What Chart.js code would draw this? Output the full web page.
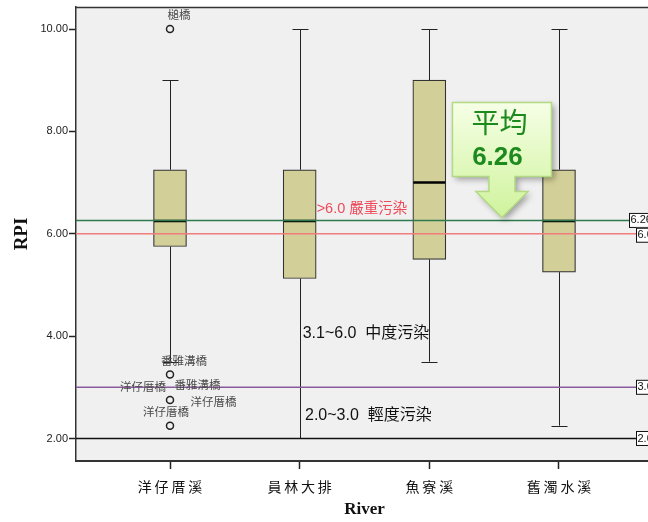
<!DOCTYPE html>
<html>
<head>
<meta charset="utf-8">
<script src="https://cdn.jsdelivr.net/npm/chart.js@4/dist/chart.umd.min.js"></script>
<style>
  html, body { margin: 0; padding: 0; background: #fff; overflow: hidden; }
  #wrap { width: 660px; height: 522px; }
</style>
</head>
<body>
<div id="wrap"><canvas id="rpiChart" width="660" height="522"></canvas></div>
<script>
// RPI 箱型圖：四條河川，含平均線與污染等級線
const rivers = ['洋仔厝溪', '員林大排', '魚寮溪', '舊濁水溪'];
const whiskerLow  = [3.5, 2.0, 3.5, 2.25];
const q1          = [5.75, 5.125, 5.5, 5.25];
const median      = [6.25, 6.25, 7.0, 6.25];
const q3          = [7.25, 7.25, 9.0, 7.25];
const whiskerHigh = [9.0, 10.0, 10.0, 10.0];

// 離群值（都屬於洋仔厝溪）
const outlierRiver = [0, 0, 0, 0];
const outlierValue = [10.0, 3.25, 2.75, 2.25];
const outlierNames = [['槌橋'], ['番雅溝橋'], ['洋仔厝橋', '番雅溝橋', '洋仔厝橋'], ['洋仔厝橋']];

// 參考線
const refValues = [6.26, 6.0, 3.0, 2.0];
const refLabels = ['6.26', '6.0', '3.0', '2.0'];
const refColors = ['#2e7a4c', '#f07c7c', '#8a5a9c', '#111111'];

const yTicks = [2, 4, 6, 8, 10];
const meanValue = 6.26;

const xMin = -0.725, xMax = 3.725;

// label offsets for outlier names (pixels from the point)
const nameOffsets = [[[9, -14]], [[14, -13.5]], [[-27, -13], [27.5, -15], [43.5, 1.5]], [[-4, -14.5]]];

function spaced(s) { return [...s].join('\u2009'); }

const boxDecor = {
  id: 'boxDecor',
  beforeDraw(chart) {
    const { ctx, chartArea: a } = chart;
    ctx.save();
    ctx.fillStyle = '#f0f0f0';
    ctx.fillRect(a.left, a.top, a.right - a.left, a.bottom - a.top);
    ctx.restore();
  },
  beforeDatasetsDraw(chart) {
    const { ctx } = chart;
    const x = chart.scales.x, y = chart.scales.y;
    ctx.save();
    ctx.strokeStyle = '#222';
    ctx.lineWidth = 1;
    rivers.forEach((r, i) => {
      const px = Math.round(x.getPixelForValue(i)) + 0.5;
      [[whiskerLow[i], q1[i]], [q3[i], whiskerHigh[i]]].forEach(([lo, hi]) => {
        ctx.beginPath();
        ctx.moveTo(px, y.getPixelForValue(lo));
        ctx.lineTo(px, y.getPixelForValue(hi));
        ctx.stroke();
      });
      [whiskerLow[i], whiskerHigh[i]].forEach(v => {
        const py = Math.round(y.getPixelForValue(v)) + 0.5;
        ctx.beginPath();
        ctx.moveTo(px - 8, py);
        ctx.lineTo(px + 8, py);
        ctx.stroke();
      });
    });
    ctx.restore();
  },
  afterDatasetDraw(chart, args) {
    if (args.index !== 0) return;
    const { ctx } = chart;
    const x = chart.scales.x, y = chart.scales.y;
    ctx.save();
    ctx.strokeStyle = '#000';
    ctx.lineWidth = 2.5;
    rivers.forEach((r, i) => {
      const px = x.getPixelForValue(i);
      const py = y.getPixelForValue(median[i]);
      ctx.beginPath();
      ctx.moveTo(px - 16, py);
      ctx.lineTo(px + 16, py);
      ctx.stroke();
    });
    ctx.restore();
  },
  afterDraw(chart) {
    const { ctx, chartArea: a } = chart;
    const x = chart.scales.x, y = chart.scales.y;
    ctx.save();
    // top / right frame
    ctx.strokeStyle = '#333';
    ctx.lineWidth = 1.5;
    ctx.beginPath();
    ctx.moveTo(a.left, a.top + 0.5);
    ctx.lineTo(a.right, a.top + 0.5);
    ctx.lineTo(a.right, a.bottom);
    ctx.stroke();

    // outlier names
    ctx.font = '11.5px "Noto Sans CJK TC"';
    ctx.fillStyle = '#4a4a4a';
    ctx.textAlign = 'center';
    ctx.textBaseline = 'middle';
    outlierValue.forEach((v, k) => {
      const px = x.getPixelForValue(outlierRiver[k]);
      const py = y.getPixelForValue(v);
      outlierNames[k].forEach((n, j) => {
        const [dx, dy] = nameOffsets[k][j];
        ctx.fillText(n, px + dx, py + dy);
      });
    });

    // pollution level notes
    ctx.textAlign = 'left';
    ctx.fillStyle = '#ee4b5a';
    ctx.font = '14.5px "Liberation Sans", "Noto Sans CJK TC"';
    ctx.fillText('>6.0 嚴重污染', x.getPixelForValue(1.131), y.getPixelForValue(6.48));
    ctx.fillStyle = '#111';
    ctx.font = '16px "Liberation Sans", "Noto Sans CJK TC"';
    ctx.fillText('3.1~6.0  中度污染', x.getPixelForValue(1.023), y.getPixelForValue(4.05));
    ctx.fillText('2.0~3.0  輕度污染', x.getPixelForValue(1.041), y.getPixelForValue(2.45));

    // value boxes at right end of reference lines
    ctx.font = '11px "Liberation Sans"';
    refValues.forEach((v, i) => {
      const py = y.getPixelForValue(v);
      const bx = i === 0 ? a.right - 24 : a.right - 17;
      const by = i === 0 ? py - 7.5 : (i === 1 ? py - 6 : py - 7.5);
      ctx.fillStyle = '#fff';
      ctx.fillRect(bx, by, 30, 14);
      ctx.strokeStyle = '#111';
      ctx.lineWidth = 1;
      ctx.strokeRect(bx + 0.5, by + 0.5, 30, 14);
      ctx.fillStyle = '#111';
      ctx.fillText(refLabels[i], bx + 1.5, by + 7.5);
    });

    // callout: 平均 6.26
    const cx = x.getPixelForValue(2.56);
    const tipY = y.getPixelForValue(meanValue) - 3;
    const top = tipY - 115, left = cx - 49.5, bw = 99, bh = 74;
    ctx.beginPath();
    ctx.moveTo(left, top);
    ctx.lineTo(left + bw, top);
    ctx.lineTo(left + bw, top + bh);
    ctx.lineTo(cx + 13, top + bh);
    ctx.lineTo(cx + 13, tipY - 26);
    ctx.lineTo(cx + 26, tipY - 26);
    ctx.lineTo(cx, tipY);
    ctx.lineTo(cx - 26, tipY - 26);
    ctx.lineTo(cx - 13, tipY - 26);
    ctx.lineTo(cx - 13, top + bh);
    ctx.lineTo(left, top + bh);
    ctx.closePath();
    const g = ctx.createLinearGradient(0, top, 0, tipY);
    g.addColorStop(0, '#f6ffe6');
    g.addColorStop(1, '#cff39c');
    ctx.shadowColor = 'rgba(0,0,0,0.35)';
    ctx.shadowBlur = 6;
    ctx.shadowOffsetX = 3;
    ctx.shadowOffsetY = 3;
    ctx.fillStyle = g;
    ctx.fill();
    ctx.shadowColor = 'transparent';
    ctx.strokeStyle = '#b2da82';
    ctx.lineWidth = 1.5;
    ctx.stroke();
    ctx.fillStyle = '#1d8a1d';
    ctx.textAlign = 'center';
    ctx.font = '28px "Noto Sans CJK TC"';
    ctx.fillText('平均', cx - 2.5, top + 20);
    ctx.font = 'bold 26px "Liberation Sans"';
    ctx.fillText('6.26', cx - 4.5, top + 55);
    ctx.restore();
  }
};

const boxData = rivers.map((r, i) => ({ x: i, y: [q1[i], q3[i]] }));
const outlierData = outlierValue.map((v, k) => ({ x: outlierRiver[k], y: v }));
const refSets = refValues.map((v, i) => ({
  type: 'line',
  data: [{ x: xMin, y: v }, { x: xMax, y: v }],
  borderColor: refColors[i],
  borderWidth: 1.5,
  pointRadius: 0,
  order: 1
}));

new Chart(document.getElementById('rpiChart'), {
  type: 'bar',
  data: {
    datasets: [
      {
        type: 'bar',
        data: boxData,
        backgroundColor: '#d3cf98',
        borderColor: '#333',
        borderWidth: 1.2,
        borderSkipped: false,
        barThickness: 33,
        order: 3
      },
      {
        type: 'scatter',
        data: outlierData,
        pointRadius: 3.5,
        borderColor: '#222',
        borderWidth: 1.5,
        backgroundColor: 'rgba(0,0,0,0)',
        order: 2
      },
      ...refSets
    ]
  },
  options: {
    responsive: false,
    animation: false,
    layout: { padding: { left: 0, top: 7, right: 7, bottom: 0 } },
    plugins: { legend: { display: false }, tooltip: { enabled: false } },
    scales: {
      x: {
        type: 'linear',
        min: xMin,
        max: xMax,
        offset: false,
        afterBuildTicks: s => { s.ticks = rivers.map((r, i) => ({ value: i })); },
        afterFit: s => { s.height = 61; s.paddingLeft = 0; s.paddingRight = 0; },
        ticks: {
          callback: v => spaced(rivers[v] || ''),
          font: { family: 'Noto Sans CJK TC', size: 14 },
          color: '#111',
          padding: 9,
          maxRotation: 0,
          autoSkip: false
        },
        grid: { drawOnChartArea: false, offset: false, tickLength: 8, color: '#222', tickWidth: 1.5 },
        border: { color: '#333', width: 2 },
        title: {
          display: true,
          text: 'River',
          color: '#111',
          padding: 0,
          font: { family: 'Liberation Serif', size: 17, weight: 'bold', lineHeight: 1.5 }
        }
      },
      y: {
        type: 'linear',
        min: 1.56,
        max: 10.43,
        afterBuildTicks: s => { s.ticks = yTicks.map(v => ({ value: v })); },
        afterFit: s => { s.width = 76; s.paddingTop = 0; s.paddingBottom = 0; },
        ticks: {
          callback: v => v.toFixed(2),
          font: { family: 'Liberation Sans', size: 11 },
          color: '#222',
          padding: 1
        },
        grid: { drawOnChartArea: false, tickLength: 7, color: '#222', tickWidth: 1.5 },
        border: { color: '#333', width: 1.5 },
        title: {
          display: true,
          text: 'RPI',
          color: '#111',
          padding: 0,
          font: { family: 'Liberation Serif', size: 19, weight: 'bold', lineHeight: 2.3 }
        }
      }
    }
  },
  plugins: [boxDecor]
});
</script>
</body>
</html>
